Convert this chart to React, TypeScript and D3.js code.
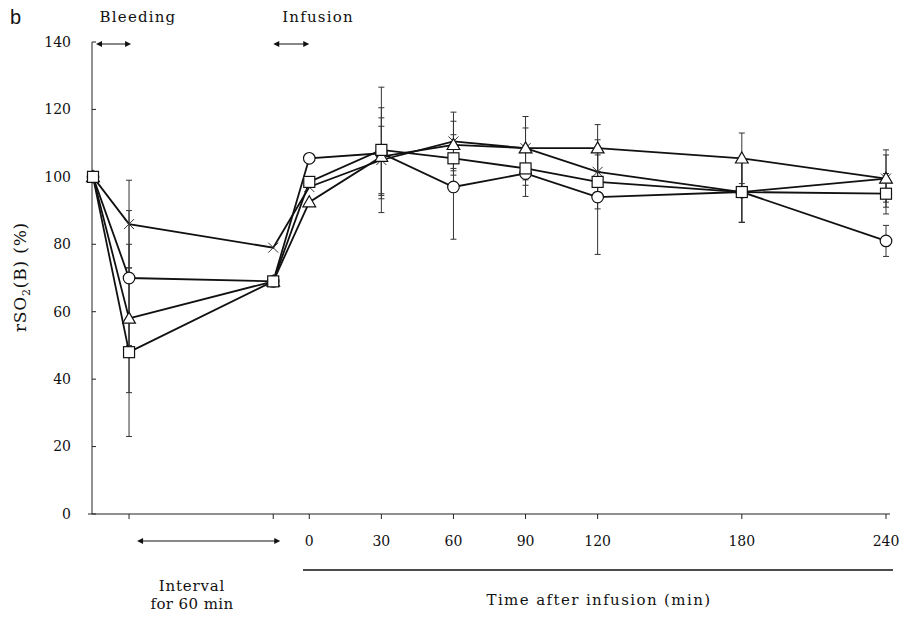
import React from "react";
import * as d3 from "d3";

// Time points (min relative to start of infusion phase)
const times = [-90, -75, -15, 0, 30, 60, 90, 120, 180, 240];
const tickTimes = [-75, -15, 0, 30, 60, 90, 120, 180, 240];
const tickLabels = ["", "", "0", "30", "60", "90", "120", "180", "240"];
const yTicks = [0, 20, 40, 60, 80, 100, 120, 140];

const circleVals = [100, 70, 69, 105.5, 107, 97, 101, 94, 95.5, 81];
const circleSD = [0, 20, 0, 0, 13.5, 15.5, 6.8, 17, 9, 4.6];
const triangleVals = [100, 58, 69, 92.5, 106, 109.5, 108.5, 108.5, 105.5, 99.5];
const triangleSD = [0, 22, 0, 0, 11.5, 7, 9.4, 7, 7.5, 7];
const squareVals = [100, 48, 69, 98.5, 108, 105.5, 102.5, 98.5, 95.5, 95];
const squareSD = [0, 25, 0, 0, 18.6, 5, 5, 8, 9, 6];
const crossVals = [100, 86, 79, 97, 105, 110.5, 108.5, 101.5, 95.5, 99.5];
const crossSD = [0, 13, 0, 0, 10, 8.7, 6, 6, 9, 8.5];

const series = [
  { name: "cross", vals: crossVals, sd: crossSD },
  { name: "circle", vals: circleVals, sd: circleSD },
  { name: "triangle", vals: triangleVals, sd: triangleSD },
  { name: "square", vals: squareVals, sd: squareSD },
];

const W = 901;
const H = 618;
const serif = "'DejaVu Serif', serif";

export default function App() {
  const x = d3.scaleLinear().domain([-90, 240]).range([93, 886]);
  const y = d3.scaleLinear().domain([0, 140]).range([514, 42]);
  const line = d3
    .line<number>()
    .x((_, i) => x(times[i]))
    .y((v) => y(v));

  const marker = (name: string, cx: number, cy: number, key: string) => {
    if (name === "circle")
      return <circle key={key} cx={cx} cy={cy} r={5.8} fill="#fff" stroke="#111" strokeWidth={1.2} />;
    if (name === "square")
      return <rect key={key} x={cx - 5.5} y={cy - 5.5} width={11} height={11} fill="#fff" stroke="#111" strokeWidth={1.2} />;
    if (name === "triangle") {
      const p = d3.symbol().type(d3.symbolTriangle).size(70)();
      return <path key={key} d={p || ""} transform={`translate(${cx},${cy + 1})`} fill="#fff" stroke="#111" strokeWidth={1.2} />;
    }
    const s = 5;
    return (
      <g key={key} stroke="#333" strokeWidth={1}>
        <line x1={cx - s} y1={cy - s} x2={cx + s} y2={cy + s} />
        <line x1={cx - s} y1={cy + s} x2={cx + s} y2={cy - s} />
      </g>
    );
  };

  const arrow = (x1: number, x2: number, yy: number, key: string) => (
    <g key={key}>
      <line x1={x1 + 3} x2={x2 - 3} y1={yy} y2={yy} stroke="#111" strokeWidth={1} />
      <path d={`M${x1},${yy} L${x1 + 6},${yy - 3} L${x1 + 6},${yy + 3} Z`} fill="#111" />
      <path d={`M${x2},${yy} L${x2 - 6},${yy - 3} L${x2 - 6},${yy + 3} Z`} fill="#111" />
    </g>
  );

  const txt = { fontFamily: serif, fill: "#111" };

  return (
    <svg width={W} height={H} style={{ position: "absolute", left: 0, top: 0, background: "#fff" }}>
      <rect width={W} height={H} fill="#fff" />
      <text x={10} y={24} fontFamily="'Liberation Sans', Arial, sans-serif" fontSize={20} fill="#111">b</text>
      <text x={138} y={22} textAnchor="middle" fontSize={15} letterSpacing={1.2} {...txt}>Bleeding</text>
      <text x={318} y={22} textAnchor="middle" fontSize={15} letterSpacing={1.2} {...txt}>Infusion</text>
      {arrow(x(-90) + 3, x(-75) + 2, 44, "a1")}
      {arrow(x(-15), x(0), 44, "a2")}

      {/* y axis */}
      <line x1={92} x2={92} y1={y(140)} y2={y(0)} stroke="#222" strokeWidth={1} />
      {yTicks.map((t) => (
        <g key={"yt" + t}>
          <line x1={92} x2={96} y1={y(t)} y2={y(t)} stroke="#222" />
          <text x={71} y={y(t)} dy="0.35em" textAnchor="end" fontSize={14} {...txt}>{t}</text>
        </g>
      ))}
      <text transform={`translate(26,${277}) rotate(-90)`} textAnchor="middle" fontSize={17} letterSpacing={0.8} {...txt}>
        rSO<tspan dy={4} fontSize={11}>2</tspan><tspan dy={-4}>(B) (%)</tspan>
      </text>

      {/* x axis */}
      <line x1={88} x2={890} y1={y(0)} y2={y(0)} stroke="#222" strokeWidth={1.2} />
      {tickTimes.map((t, i) => (
        <g key={"xt" + t}>
          <line x1={x(t)} x2={x(t)} y1={y(0)} y2={y(0) + 5} stroke="#222" />
          <text x={x(t)} y={546} textAnchor="middle" fontSize={14} {...txt}>{tickLabels[i]}</text>
        </g>
      ))}
      {arrow(x(-75) + 8, x(-15) + 7, 541, "a3")}
      <line x1={303} x2={893} y1={570} y2={570} stroke="#111" strokeWidth={1.6} />
      <text x={192} y={591} textAnchor="middle" fontSize={15} letterSpacing={0.8} {...txt}>Interval</text>
      <text x={192} y={609} textAnchor="middle" fontSize={15} letterSpacing={0.4} {...txt}>for 60 min</text>
      <text x={599} y={605} textAnchor="middle" fontSize={15} letterSpacing={1.4} {...txt}>Time after infusion (min)</text>

      {/* error bars */}
      {series.map((s) =>
        s.vals.map((v, i) =>
          s.sd[i] > 0 ? (
            <g key={`e${s.name}${i}`} stroke="#333" strokeWidth={1}>
              <line x1={x(times[i])} x2={x(times[i])} y1={y(v - s.sd[i])} y2={y(v + s.sd[i])} />
              <line x1={x(times[i]) - 3} x2={x(times[i]) + 3} y1={y(v - s.sd[i])} y2={y(v - s.sd[i])} />
              <line x1={x(times[i]) - 3} x2={x(times[i]) + 3} y1={y(v + s.sd[i])} y2={y(v + s.sd[i])} />
            </g>
          ) : null
        )
      )}

      {/* lines */}
      {series.map((s) => (
        <path key={"l" + s.name} d={line(s.vals) || ""} fill="none" stroke="#111" strokeWidth={1.8} />
      ))}

      {/* markers */}
      {series.map((s) => s.vals.map((v, i) => marker(s.name, x(times[i]), y(v), `m${s.name}${i}`)))}
    </svg>
  );
}
